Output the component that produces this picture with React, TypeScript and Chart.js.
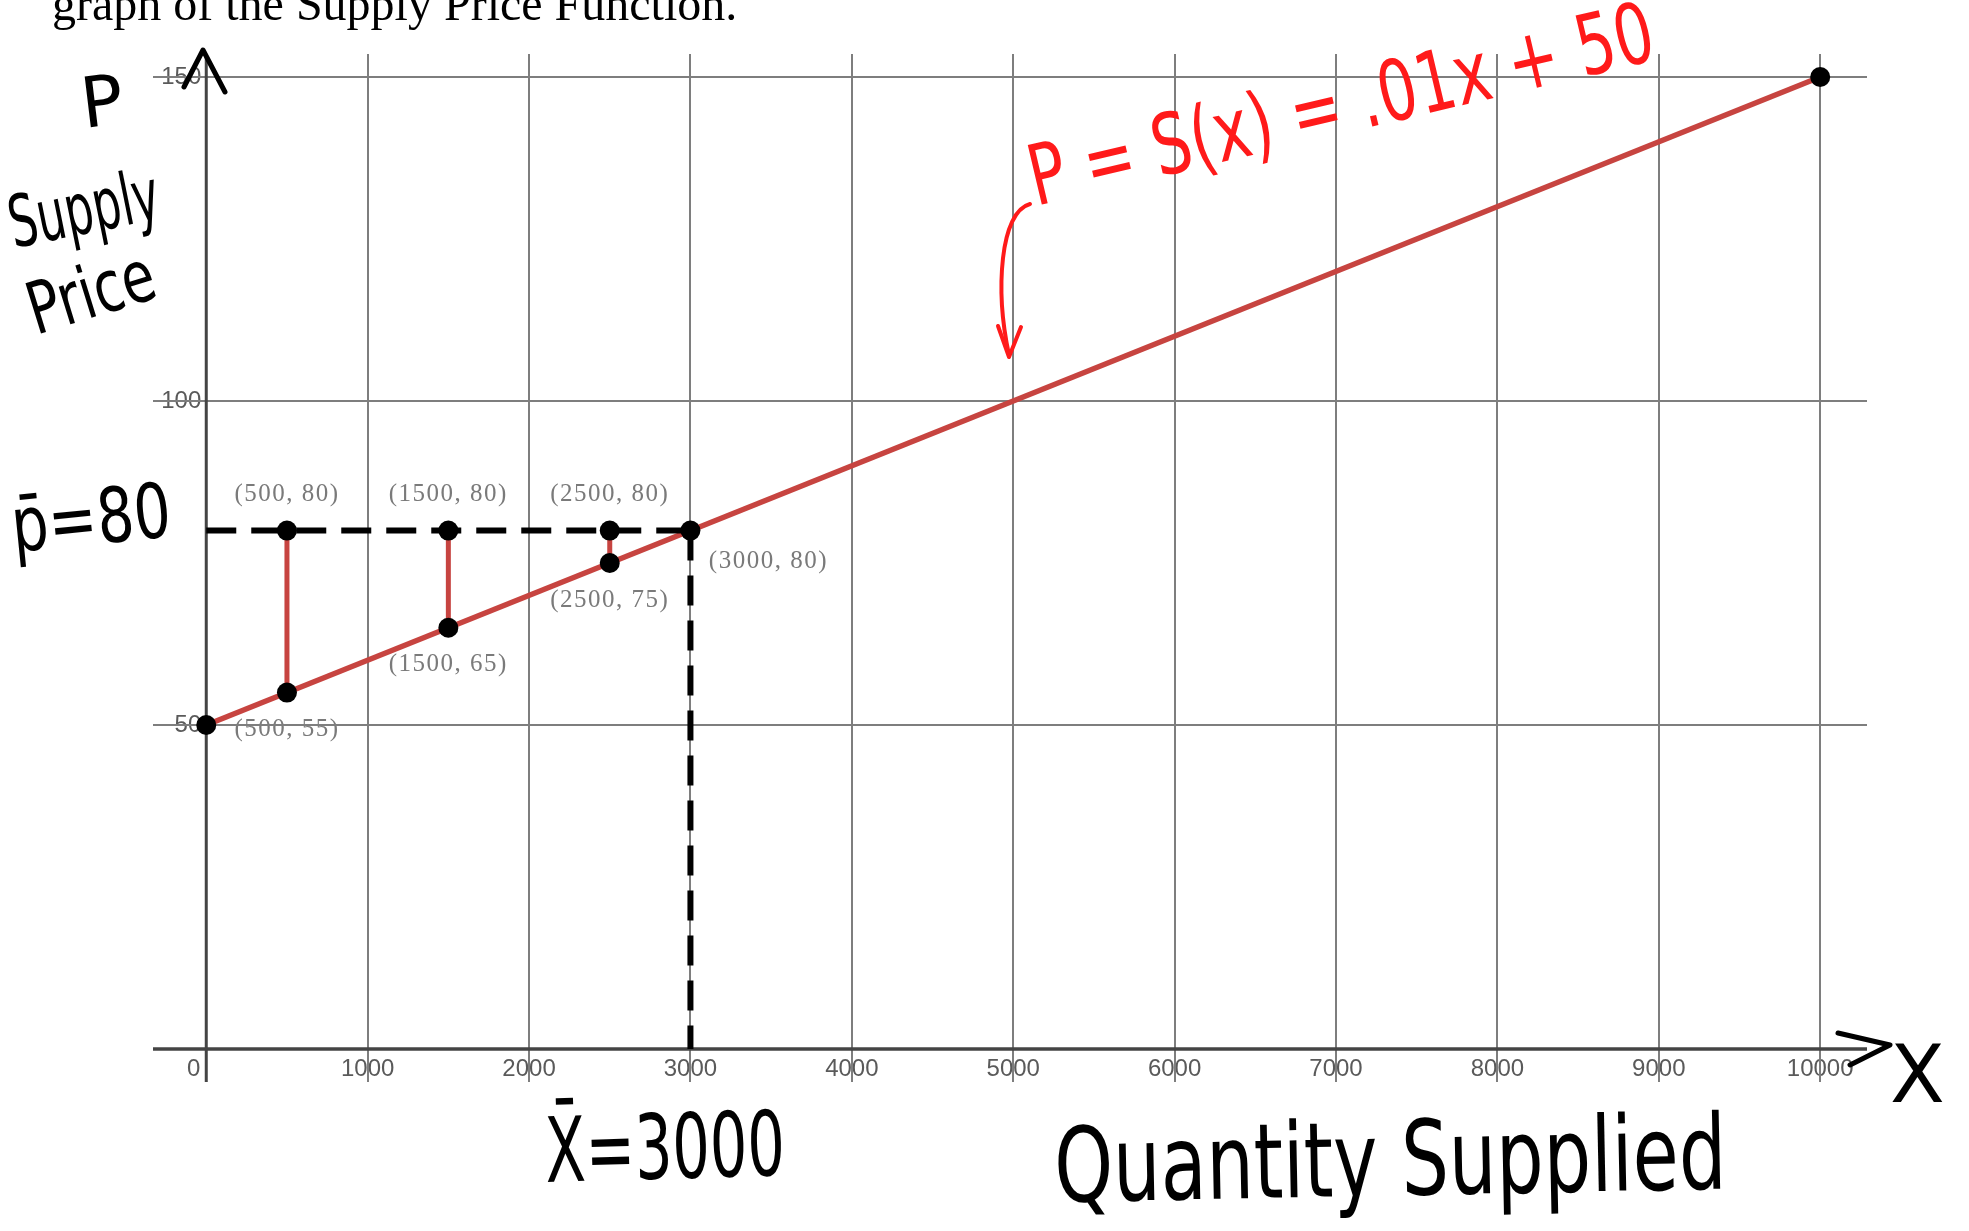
import { useEffect, useRef } from "react";
import { Chart, registerables } from "chart.js";

Chart.register(...registerables);

// ---- data ----
const supplyX = [0, 10000];
const supplyP = [50, 150];

const dotX = [0, 500, 500, 1500, 1500, 2500, 2500, 3000, 10000];
const dotP = [50, 80, 55, 80, 65, 80, 75, 80, 150];

const segX = [500, 1500, 2500];
const segLow = [55, 65, 75];

const pBar = 80;
const xBar = 3000;

const xTicks = [0, 1000, 2000, 3000, 4000, 5000, 6000, 7000, 8000, 9000, 10000];
const yTicks = [0, 50, 100, 150];

const labelX = [500, 1500, 2500, 500, 1500, 2500, 3000];
const labelP = [80, 80, 80, 55, 65, 75, 80];

const titleText = "graph of the Supply Price Function.";
const formulaText = "P = S(x) = .01x + 50";

// ---- styles ----
const RED = "#c74440";
const labelPlacement: Array<[number, number]> = [
  [0, -36],
  [0, -36],
  [0, -36],
  [0, 37],
  [0, 37],
  [0, 37],
  [78, 31],
];

const HAND = "'DejaVu Sans', sans-serif";

function hand(
  ctx: CanvasRenderingContext2D,
  text: string,
  x: number,
  y: number,
  size: number,
  rot: number,
  maxW: number,
  color = "#000"
) {
  ctx.save();
  ctx.translate(x, y);
  ctx.rotate(rot);
  ctx.font = `${size}px ${HAND}`;
  ctx.fillStyle = color;
  ctx.textAlign = "left";
  ctx.textBaseline = "alphabetic";
  ctx.fillText(text, 0, 0, maxW);
  ctx.restore();
}

function poly(ctx: CanvasRenderingContext2D, pts: number[][], color: string, w: number) {
  ctx.save();
  ctx.strokeStyle = color;
  ctx.lineWidth = w;
  ctx.lineCap = "round";
  ctx.lineJoin = "round";
  ctx.beginPath();
  pts.forEach((p, i) => (i === 0 ? ctx.moveTo(p[0], p[1]) : ctx.lineTo(p[0], p[1])));
  ctx.stroke();
  ctx.restore();
}

const decorPlugin = {
  id: "decor",
  beforeDatasetsDraw(chart: any) {
    const { ctx, chartArea, scales } = chart;
    const xs = scales.x;
    const ys = scales.y;
    const x0 = xs.getPixelForValue(0);
    const y0 = ys.getPixelForValue(0);

    ctx.save();
    // tick labels
    ctx.font = "24px 'Liberation Sans', Arial, sans-serif";
    ctx.fillStyle = "#5a5a5a";
    ctx.textBaseline = "middle";
    xTicks.forEach((v) => {
      const px = xs.getPixelForValue(v);
      if (v === 0) {
        ctx.textAlign = "right";
        ctx.fillText(String(v), x0 - 6, y0 + 20);
      } else {
        ctx.textAlign = "center";
        ctx.fillText(String(v), px, y0 + 20);
      }
    });
    yTicks.forEach((v) => {
      if (v === 0) return;
      ctx.textAlign = "right";
      ctx.fillText(String(v), x0 - 5, ys.getPixelForValue(v));
    });

    // point labels
    ctx.font = "25px 'Liberation Serif', 'Times New Roman', serif";
    (ctx as any).letterSpacing = "1.5px";
    ctx.fillStyle = "#7a7a7a";
    ctx.textAlign = "center";
    labelX.forEach((lx, i) => {
      const px = xs.getPixelForValue(lx);
      const py = ys.getPixelForValue(labelP[i]);
      const [dx, dy] = labelPlacement[i];
      ctx.fillText(`(${lx}, ${labelP[i]})`, px + dx, py + dy);
    });
    (ctx as any).letterSpacing = "0px";

    // grid lines
    ctx.strokeStyle = "#7e7e7e";
    ctx.lineWidth = 2;
    xTicks.forEach((v) => {
      if (v === 0) return;
      const px = Math.round(xs.getPixelForValue(v));
      ctx.beginPath();
      ctx.moveTo(px, chartArea.top);
      ctx.lineTo(px, chartArea.bottom);
      ctx.stroke();
    });
    yTicks.forEach((v) => {
      if (v === 0) return;
      const py = Math.round(ys.getPixelForValue(v));
      ctx.beginPath();
      ctx.moveTo(chartArea.left, py);
      ctx.lineTo(chartArea.right, py);
      ctx.stroke();
    });
    // axes
    ctx.strokeStyle = "#444";
    ctx.lineWidth = 3.5;
    ctx.beginPath();
    ctx.moveTo(chartArea.left, y0);
    ctx.lineTo(chartArea.right, y0);
    ctx.stroke();
    ctx.lineWidth = 3;
    ctx.beginPath();
    ctx.moveTo(x0, chartArea.top);
    ctx.lineTo(x0, chartArea.bottom);
    ctx.stroke();
    ctx.restore();
  },
  afterDatasetsDraw(chart: any) {
    const { ctx } = chart;
    ctx.save();
    // title (cut at top)
    ctx.font = "48px 'Liberation Serif', 'Times New Roman', serif";
    ctx.fillStyle = "#000";
    ctx.textAlign = "left";
    ctx.textBaseline = "alphabetic";
    ctx.fillText(titleText, 52, 20);
    ctx.restore();

    // handwritten annotations
    hand(ctx, "P", 84, 128, 70, -0.12, 45);
    poly(ctx, [[184, 87], [203, 50], [225, 92]], "#000", 5);
    hand(ctx, "Supply", 14, 248, 72, -0.2, 152);
    hand(ctx, "Price", 36, 335, 72, -0.3, 130);
    hand(ctx, "p\u0304=80", 14, 552, 76, -0.1, 160);
    hand(ctx, "X\u0304=3000", 546, 1182, 90, -0.03, 240);
    hand(ctx, "Quantity Supplied", 1055, 1202, 104, -0.02, 672);
    poly(ctx, [[1838, 1033], [1890, 1045], [1850, 1065]], "#000", 5);
    hand(ctx, "X", 1890, 1102, 80, 0, 62);

    // red formula + arrow
    hand(ctx, formulaText, 1036, 206, 84, -0.232, 640, "#ff1a1a");
    ctx.save();
    ctx.strokeStyle = "#ff1a1a";
    ctx.lineWidth = 4;
    ctx.lineCap = "round";
    ctx.beginPath();
    ctx.moveTo(1030, 204);
    ctx.bezierCurveTo(1000, 212, 995, 290, 1009, 355);
    ctx.stroke();
    ctx.restore();
    poly(ctx, [[998, 326], [1009, 357], [1021, 327]], "#ff1a1a", 4);
  },
};

export default function App() {
  const ref = useRef<HTMLCanvasElement | null>(null);

  useEffect(() => {
    if (!ref.current) return;
    const pts = (xa: number[], ya: number[]) => xa.map((x, i) => ({ x, y: ya[i] }));

    const segDatasets = segX.map((sx, i) => ({
      label: `seg${i}`,
      data: [
        { x: sx, y: segLow[i] },
        { x: sx, y: pBar },
      ],
      showLine: true,
      borderColor: RED,
      borderWidth: 5,
      pointRadius: 0,
      order: 3,
    }));

    const chart = new Chart(ref.current, {
      type: "scatter",
      data: {
        datasets: [
          {
            label: "dots",
            data: pts(dotX, dotP),
            backgroundColor: "#000",
            borderWidth: 0,
            pointRadius: 10,
            showLine: false,
            order: 0,
          },
          {
            label: "pbar",
            data: [
              { x: 0, y: pBar },
              { x: xBar, y: pBar },
            ],
            showLine: true,
            borderColor: "#000",
            borderWidth: 6,
            borderDash: [30, 15],
            pointRadius: 0,
            order: 1,
          },
          {
            label: "xbar",
            data: [
              { x: xBar, y: pBar },
              { x: xBar, y: 0 },
            ],
            showLine: true,
            borderColor: "#000",
            borderWidth: 6,
            borderDash: [30, 15],
            pointRadius: 0,
            order: 1,
          },
          {
            label: "supply",
            data: pts(supplyX, supplyP),
            showLine: true,
            borderColor: RED,
            borderWidth: 5.5,
            pointRadius: 0,
            order: 2,
          },
          ...segDatasets,
        ] as any,
      },
      options: {
        animation: false,
        responsive: false,
        devicePixelRatio: 1,
        layout: { padding: { left: 153, right: 102, top: 54, bottom: 149 } },
        scales: {
          x: { type: "linear", min: -330, max: 10290, display: false },
          y: { type: "linear", min: -5.1, max: 153.55, display: false },
        },
        plugins: {
          legend: { display: false },
          tooltip: { enabled: false },
        },
      },
      plugins: [decorPlugin],
    });
    return () => chart.destroy();
  }, []);

  return (
    <div
      style={{
        position: "fixed",
        left: 0,
        top: 0,
        width: 1969,
        height: 1231,
        background: "#fff",
        overflow: "hidden",
      }}
    >
      <canvas ref={ref} width={1969} height={1231} style={{ width: 1969, height: 1231, display: "block" }} />
    </div>
  );
}
